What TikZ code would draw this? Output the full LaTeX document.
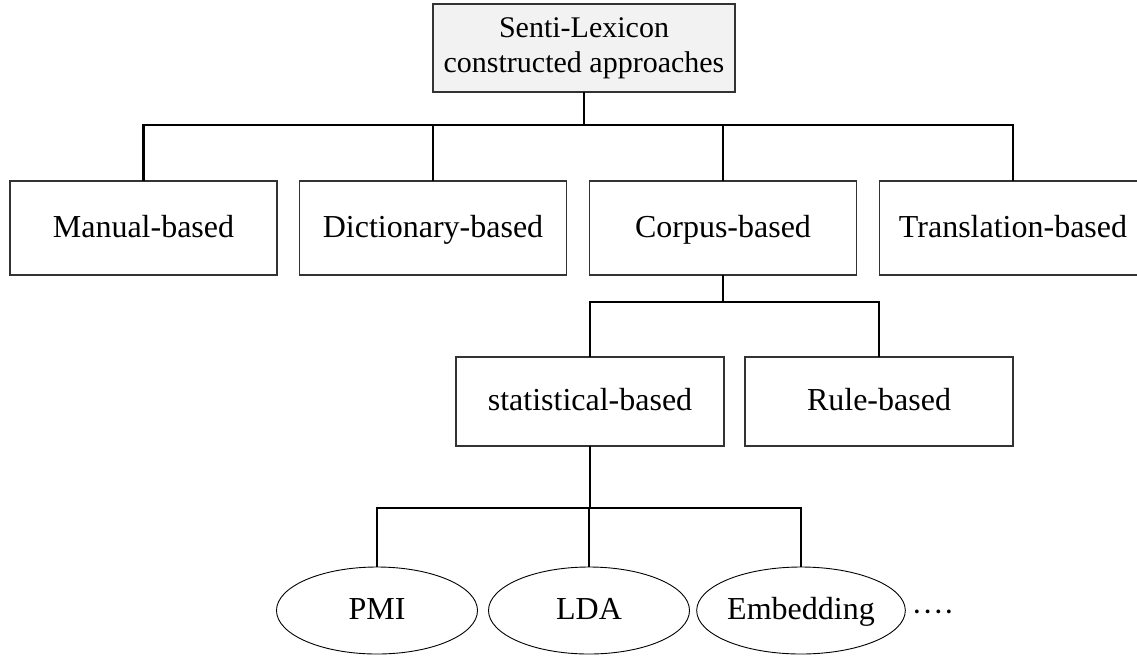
\documentclass[tikz,border=0pt]{standalone}
\usepackage{fontspec}
\setmainfont{Liberation Serif}
\usetikzlibrary{shapes.geometric}
\begin{document}
\begin{tikzpicture}[
  x=0.5bp, y=-0.5bp,
  font=\fontsize{16bp}{19bp}\selectfont,
  every node/.style={inner sep=0pt, outer sep=0pt, align=center},
  label text/.style={text height=1.0em, text depth=0.06em},
  rootbox/.style={draw=black!80, line width=0.6bp, fill=black!5,
                  font=\fontsize{15bp}{17.5bp}\selectfont,
                  minimum width=151bp, minimum height=44bp},
  catbox/.style={draw=black!80, line width=0.6bp, fill=white, label text,
                 minimum width=133.5bp, minimum height=47bp},
  subbox/.style={draw=black!80, line width=0.6bp, fill=white, label text,
                 minimum width=134bp, minimum height=44.5bp},
  method/.style={draw=black, line width=0.45bp, ellipse, label text,
                 minimum width=100.5bp, minimum height=43.5bp},
  conn/.style={draw=black, line width=1.05bp}
]
\useasboundingbox (0,0) rectangle (1137,656);
\clip (0,0) rectangle (1137,656);

% root
\node[rootbox] (root) at (584,48) {Senti-Lexicon\\constructed approaches};

% first level
\node[catbox] (man)   at (143.5,228) {Manual-based};
\node[catbox] (dict)  at (433,228)   {Dictionary-based};
\node[catbox] (corp)  at (723,228)   {Corpus-based};
\node[catbox] (trans) at (1013,228)  {Translation-based};

% second level
\node[subbox] (stat) at (590,401.5) {statistical-based};
\node[subbox] (rule) at (879,401.5) {Rule-based};

% methods
\node[method] (pmi) at (377,610.5) {PMI};
\node[method] (lda) at (589,610.5) {LDA};
\node[method] (emb) at (801,610.5) {Embedding};
\node[label text] (more) at (933,613) {····};

% bus lines
\coordinate (b1) at (584,125);
\coordinate (b2) at (723,302);
\coordinate (b3) at (589,508);

\draw[conn] (root.south) -- (root.south |- b1);
\draw[conn] (man.north) -- (man.north |- b1) -- (trans.north |- b1) -- (trans.north);
\draw[conn] (dict.north) -- (dict.north |- b1);
\draw[conn] (corp.north) -- (corp.north |- b1);

\draw[conn] (corp.south) -- (corp.south |- b2);
\draw[conn] (stat.north) -- (stat.north |- b2) -- (rule.north |- b2) -- (rule.north);

\draw[conn] (stat.south) -- (stat.south |- b3);
\draw[conn] (pmi.north) -- (pmi.north |- b3) -- (emb.north |- b3) -- (emb.north);
\draw[conn] (lda.north) -- (lda.north |- b3);
\end{tikzpicture}
\end{document}
